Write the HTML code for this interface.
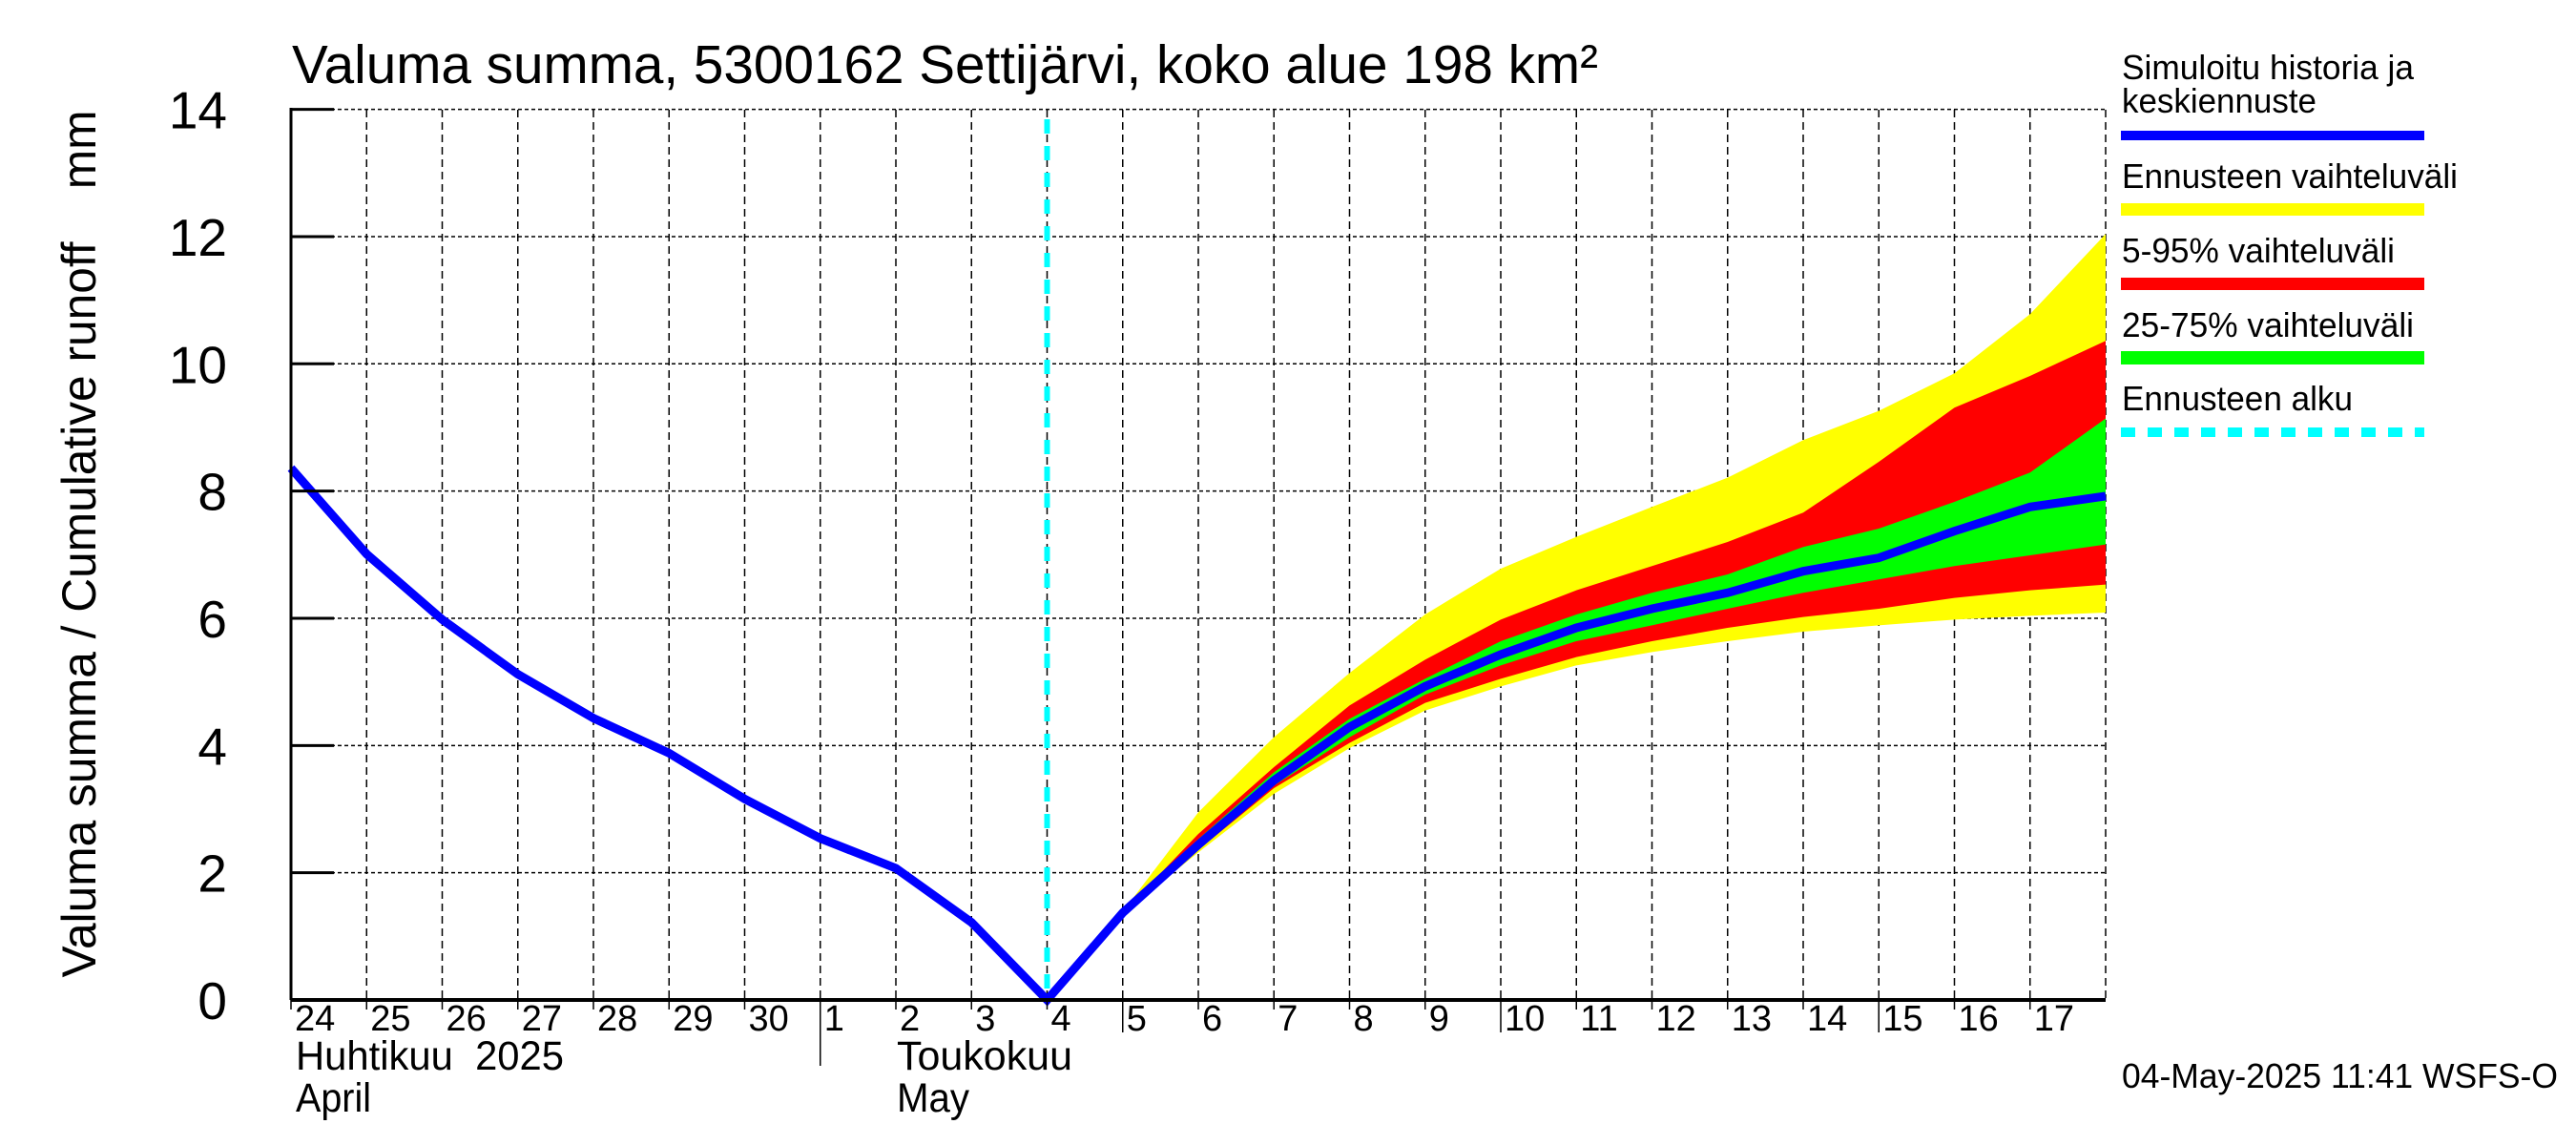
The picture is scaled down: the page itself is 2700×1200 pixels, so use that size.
<!DOCTYPE html>
<html><head><meta charset="utf-8"><style>
html,body{margin:0;padding:0;background:#fff}
svg{display:block;font-family:"Liberation Sans",sans-serif}
</style></head><body>
<svg id="chart" width="2700" height="1200" viewBox="0 0 2700 1200" xmlns="http://www.w3.org/2000/svg">
<rect width="2700" height="1200" fill="#fff"/>
<g id="grid"></g>
<g id="bands"></g>
<g id="lines"></g>
<g id="axes"></g>
<text x="306" y="87" font-size="57" textLength="1369" lengthAdjust="spacingAndGlyphs">Valuma summa, 5300162 Settijärvi, koko alue 198 km²</text>
<text transform="translate(100,570) rotate(-90)" text-anchor="middle" font-size="50" textLength="909" lengthAdjust="spacingAndGlyphs" style="white-space:pre" xml:space="preserve">Valuma summa / Cumulative runoff    mm</text>
<text x="310" y="1121" font-size="43" textLength="281" lengthAdjust="spacingAndGlyphs" style="white-space:pre" xml:space="preserve">Huhtikuu  2025</text>
<text x="310" y="1165" font-size="43" textLength="79" lengthAdjust="spacingAndGlyphs">April</text>
<text x="940" y="1121" font-size="43" textLength="184" lengthAdjust="spacingAndGlyphs">Toukokuu</text>
<text x="940" y="1165" font-size="43" textLength="76" lengthAdjust="spacingAndGlyphs">May</text>
<g font-size="36">
<text x="2224" y="83" textLength="306" lengthAdjust="spacingAndGlyphs">Simuloitu historia ja</text>
<text x="2224" y="118" textLength="204" lengthAdjust="spacingAndGlyphs">keskiennuste</text>
<rect x="2223" y="137" width="318" height="10" fill="#0000ff"/>
<text x="2224" y="197" textLength="352" lengthAdjust="spacingAndGlyphs">Ennusteen vaihteluväli</text>
<rect x="2223" y="213" width="318" height="13" fill="#ffff00"/>
<text x="2224" y="275" textLength="286" lengthAdjust="spacingAndGlyphs">5-95% vaihteluväli</text>
<rect x="2223" y="291" width="318" height="13" fill="#ff0000"/>
<text x="2224" y="353" textLength="306" lengthAdjust="spacingAndGlyphs">25-75% vaihteluväli</text>
<rect x="2223" y="368" width="318" height="14" fill="#00ff00"/>
<text x="2224" y="430" textLength="242" lengthAdjust="spacingAndGlyphs">Ennusteen alku</text>
<line x1="2223" y1="453" x2="2541" y2="453" stroke="#00ffff" stroke-width="10" stroke-dasharray="15 13"/>
</g>
<text x="2224" y="1140" font-size="36" textLength="457" lengthAdjust="spacingAndGlyphs">04-May-2025 11:41 WSFS-O</text>
</svg>
<script>
const dayLabels = ["24","25","26","27","28","29","30","1","2","3","4","5","6","7","8","9","10","11","12","13","14","15","16","17"];
const yTicks = [0,2,4,6,8,10,12,14];
const medianValues = [8.36,7.01,5.98,5.12,4.43,3.88,3.16,2.54,2.07,1.22,0,1.37,2.44,3.45,4.29,4.93,5.43,5.85,6.15,6.40,6.74,6.95,7.37,7.75,7.92];
const forecastStartIndex = 10;
const yellowTop = [0,1.39,2.95,4.13,5.14,6.06,6.78,7.28,7.75,8.21,8.80,9.26,9.85,10.78,12.04];
const redTop    = [0,1.37,2.61,3.66,4.63,5.35,5.98,6.44,6.82,7.20,7.66,8.46,9.31,9.81,10.36];
const greenTop  = [0,1.37,2.53,3.58,4.42,5.05,5.64,6.06,6.40,6.69,7.12,7.41,7.83,8.29,9.14];
const greenBot  = [0,1.37,2.38,3.37,4.13,4.80,5.26,5.64,5.89,6.15,6.40,6.61,6.82,6.99,7.16];
const redBot    = [0,1.37,2.36,3.33,4.04,4.67,5.05,5.39,5.64,5.85,6.02,6.15,6.32,6.44,6.53];
const yellowBot = [0,1.36,2.32,3.24,3.96,4.55,4.93,5.26,5.47,5.64,5.79,5.89,5.98,6.04,6.09];

const X0=305, DX=79.25, Y0=1048, YU=66.67, XR=2207, YT=115;
const NS="http://www.w3.org/2000/svg";
function xs(d){return X0+d*DX;}
function ys(v){return Y0-v*YU;}
function mk(tag,attrs,parent){const e=document.createElementNS(NS,tag);for(const k in attrs)e.setAttribute(k,attrs[k]);parent.appendChild(e);return e;}
const grid=document.getElementById('grid'),bands=document.getElementById('bands'),lines=document.getElementById('lines'),axes=document.getElementById('axes');

yTicks.forEach(v=>{
  if(v===0)return;
  const l=mk('line',{x1:X0,y1:ys(v),x2:XR,y2:ys(v),stroke:'#000','stroke-width':1.5,'stroke-dasharray':'4 3'},grid);
  
  
});
for(let d=1;d<=dayLabels.length;d++){
  const l=mk('line',{x1:xs(d),y1:YT,x2:xs(d),y2:Y0,stroke:'#000','stroke-width':1.5,'stroke-dasharray':'8 5'},grid);
  
  
}

function band(top,bot,color,name){
  let pts=[];
  for(let i=0;i<top.length;i++)pts.push(xs(forecastStartIndex+i)+','+ys(top[i]));
  for(let i=bot.length-1;i>=0;i--)pts.push(xs(forecastStartIndex+i)+','+ys(bot[i]));
  const p=mk('polygon',{points:pts.join(' '),fill:color},bands);
  
  
}
band(yellowTop,yellowBot,'#ffff00','band-full-range');
band(redTop,redBot,'#ff0000','band-5-95');
band(greenTop,greenBot,'#00ff00','band-25-75');

const cy=mk('line',{x1:xs(forecastStartIndex),y1:YT+10,x2:xs(forecastStartIndex),y2:Y0,stroke:'#00ffff','stroke-width':6,'stroke-dasharray':'15 13'},lines);



const mp=mk('polyline',{points:medianValues.map((v,i)=>xs(i)+','+ys(v)).join(' '),fill:'none',stroke:'#0000ff','stroke-width':9,'stroke-linejoin':'miter'},lines);



const la=mk('line',{x1:X0,y1:YT-2,x2:X0,y2:Y0,stroke:'#000','stroke-width':3},axes);


const ba=mk('line',{x1:X0,y1:Y0,x2:XR,y2:Y0,stroke:'#000','stroke-width':4},axes);


yTicks.forEach(v=>{
  const t=mk('line',{x1:X0,y1:ys(v),x2:X0+45,y2:ys(v),stroke:'#000','stroke-width':3},axes);
  
  
  const tx=mk('text',{x:238,y:ys(v)+20,'text-anchor':'end','font-size':55},axes);
  tx.textContent=String(v);
  
  
});
dayLabels.forEach((lab,i)=>{
  const long=(lab==='5'||lab==='10'||lab==='15');
  const t=mk('line',{x1:xs(i),y1:Y0,x2:xs(i),y2:long?1082:1058,stroke:'#000','stroke-width':1.5},axes);
  
  
  const tx=mk('text',{x:xs(i)+4,y:1080,'font-size':38},axes);
  tx.textContent=lab;
  
  
});
const ms=mk('line',{x1:xs(7),y1:Y0,x2:xs(7),y2:1117,stroke:'#000','stroke-width':1.5},axes);


</script>
</body></html>
